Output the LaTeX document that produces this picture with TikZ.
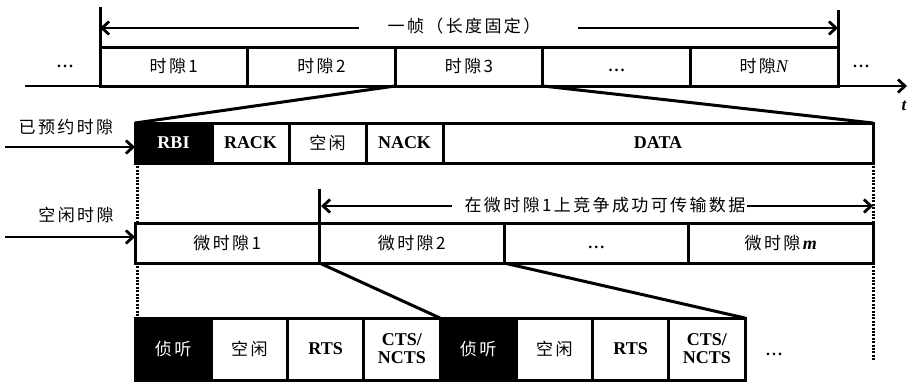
\documentclass[tikz,border=0pt]{standalone}
\usepackage{fontspec}
\setmainfont{Liberation Serif}
\newfontfamily\cjk[LetterSpace=14]{Noto Sans CJK SC}
\usetikzlibrary{arrows.meta}
\newcommand{\cjkc}[1]{{\cjk\mdseries\fontsize{17}{19}\selectfont #1}}
\newcommand{\ldts}{{\fontsize{16}{18}\selectfont\bfseries\vphantom{A}.\hspace{2pt}.\hspace{2pt}.}}
\begin{document}
\begin{tikzpicture}[x=1pt,y=-1pt,
  lw/.style={line width=3pt},
  arr/.style={line width=2.8pt,-{Straight Barb[length=7pt,width=13pt,line width=2.8pt]}},
  dotl/.style={line width=3pt,dash pattern=on 2pt off 1.4pt},
  cell/.style={draw,line width=3pt,anchor=north west,inner sep=0pt,outer sep=0pt,
    font=\fontsize{18}{20}\selectfont\bfseries},
  blk/.style={cell,fill=black,text=white},
  cn/.style={font=\cjk\fontsize{17}{19}\selectfont}]
\useasboundingbox (0,0) rectangle (909,381);
\fill[white] (0,0) rectangle (909,381);
% row 1
\node[cell,minimum width=147.6pt,minimum height=39pt] (s1) at (100,47) {\cjkc{时隙1}};
\node[cell,minimum width=147.6pt,minimum height=39pt] (s2) at (247.6,47) {\cjkc{时隙2}};
\node[cell,minimum width=147.6pt,minimum height=39pt] (s3) at (395.2,47) {\cjkc{时隙3}};
\node[cell,minimum width=147.6pt,minimum height=39pt] (sd) at (542.8,47) {\ldts};
\node[cell,minimum width=147.6pt,minimum height=39pt] (sN) at (690.4,47) {\cjkc{时隙}\mdseries\textit{N}};
\node (d1) at (65,62) {\ldts};
\node (d2) at (861,62) {\ldts};
\coordinate (fl) at (100,7);
\coordinate (fr) at (838,10);
\draw[lw] (fl) -- (s1.south west);
\draw[lw] (fr) -- (sN.south east);
\coordinate (ax0) at (25,86);
\coordinate (ax1) at (907,86);
\draw[arr] (ax0) -- (ax1);
\node[font=\itshape\bfseries\fontsize{17}{19}\selectfont] (t) at (904,106) {t};
\node[cn] (frame) at (464,26) {一帧（长度固定）};
\coordinate (fa1) at (100,28);
\coordinate (fa2) at (838,28);
\coordinate (fb1) at (359,28);
\coordinate (fb2) at (578,28);
\draw[arr] (fb1) -- (fa1);
\draw[arr] (fb2) -- (fa2);
% row 2
\node[blk,minimum width=77pt,minimum height=40pt] (rbi) at (135,123) {RBI};
\node[cell,minimum width=77pt,minimum height=40pt] (rack) at (212,123) {RACK};
\node[cell,minimum width=77pt,minimum height=40pt] (idle) at (289,123) {\cjkc{空闲}};
\node[cell,minimum width=77pt,minimum height=40pt] (nack) at (366,123) {NACK};
\node[cell,minimum width=430pt,minimum height=40pt] (data) at (443,123) {DATA};
\draw[lw] (s3.south west) -- (rbi.north west);
\draw[lw] (s3.south east) -- (data.north east);
\node[cn] (lab1) at (66,127) {已预约时隙};
\coordinate (a1) at (5,147);
\draw[arr] (a1) -- (a1 -| rbi.west);
% row 3
\node[cell,minimum width=184.5pt,minimum height=40pt] (m1) at (135,223) {\cjkc{微时隙1}};
\node[cell,minimum width=184.5pt,minimum height=40pt] (m2) at (319.5,223) {\cjkc{微时隙2}};
\node[cell,minimum width=184.5pt,minimum height=40pt] (md) at (504,223) {\ldts};
\node[cell,minimum width=184.5pt,minimum height=40pt] (mm) at (688.5,223) {\cjkc{微时隙}\textbf{\textit{m}}};
\node[cn] (lab2) at (76,215) {空闲时隙};
\coordinate (a2) at (5,237);
\draw[arr] (a2) -- (a2 -| m1.west);
\coordinate (cv) at (319.5,189);
\draw[lw] (cv) -- (m2.north west);
\node[cn,inner sep=1pt] (cl) at (605,205) {在微时隙1上竞争成功可传输数据};
\coordinate (cl1) at (321,206);
\coordinate (cl2) at (873,206);
\coordinate (cl1s) at (452,206);
\draw[arr] (cl1s) -- (cl1);
\draw[arr] (cl.east |- cl2) -- (cl2);
% dotted
\draw[dotl] ([xshift=2pt]rbi.south west) -- ([xshift=2pt]m1.north west);
\draw[dotl] (data.south east) -- (mm.north east);
% row 4
\node[blk,minimum width=76.25pt,minimum height=62pt] (l1) at (135,318) {\cjkc{侦听}};
\node[cell,minimum width=76.25pt,minimum height=62pt] (i1) at (211.25,318) {\cjkc{空闲}};
\node[cell,minimum width=76.25pt,minimum height=62pt] (r1) at (287.5,318) {RTS};
\node[cell,minimum width=76.25pt,minimum height=62pt,align=center] (c1) at (363.75,318) {CTS/\\[-2pt]NCTS};
\node[blk,minimum width=76.25pt,minimum height=62pt] (l2) at (440,318) {\cjkc{侦听}};
\node[cell,minimum width=76.25pt,minimum height=62pt] (i2) at (516.25,318) {\cjkc{空闲}};
\node[cell,minimum width=76.25pt,minimum height=62pt] (r2) at (592.5,318) {RTS};
\node[cell,minimum width=76.25pt,minimum height=62pt,align=center] (c2) at (668.75,318) {CTS/\\[-2pt]NCTS};
\node (d3) at (774,350) {\ldts};
\draw[dotl] ([xshift=2pt]m1.south west) -- ([xshift=2pt]l1.north west);
\coordinate (dend) at (873,360);
\draw[dotl] (mm.south east) -- (dend);
\draw[lw] (m2.south west) -- (c1.north east);
\draw[lw] (m2.south east) -- (c2.north east);
\end{tikzpicture}
\end{document}
